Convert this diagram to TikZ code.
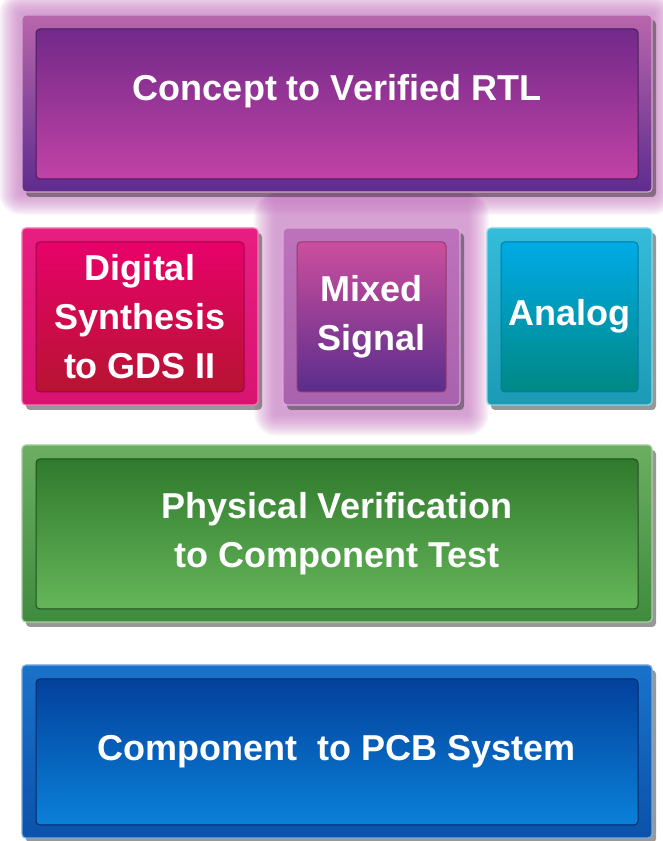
\documentclass[tikz,border=0pt]{standalone}
\usepackage{fontspec}
\setmainfont{Liberation Sans}
\usepackage{tikz}
\usetikzlibrary{calc, shadows, backgrounds}
\definecolor{glowpink}{HTML}{C97DC4}
\definecolor{rtlfrA}{HTML}{B866AB}
\definecolor{rtlfrB}{HTML}{5E2C8E}
\definecolor{rtlpA}{HTML}{6A2787}
\definecolor{rtlpB}{HTML}{C845A8}
\definecolor{digfrA}{HTML}{E81E80}
\definecolor{digfrB}{HTML}{D81470}
\definecolor{digpA}{HTML}{EC0070}
\definecolor{digpB}{HTML}{B3152C}
\definecolor{mixfrA}{HTML}{BE72BC}
\definecolor{mixfrB}{HTML}{A862AE}
\definecolor{mixpA}{HTML}{D6529F}
\definecolor{mixpB}{HTML}{502A8A}
\definecolor{anafrA}{HTML}{34BCDA}
\definecolor{anafrB}{HTML}{1C9AB4}
\definecolor{anapA}{HTML}{00AEEF}
\definecolor{anapB}{HTML}{00857C}
\definecolor{phyfrA}{HTML}{6CAE62}
\definecolor{phyfrB}{HTML}{3F8B3D}
\definecolor{phypA}{HTML}{2A7428}
\definecolor{phypB}{HTML}{6ABB5E}
\definecolor{pcbfrA}{HTML}{1A72CA}
\definecolor{pcbfrB}{HTML}{0B52AA}
\definecolor{pcbpA}{HTML}{023B97}
\definecolor{pcbpB}{HTML}{0B86DD}
\tikzset{
  tile/.style = {rectangle, rounded corners=4pt, text=white, align=center, line width=1.2pt, font=\bfseries\fontsize{36}{49}\selectfont, drop shadow={shadow xshift=4pt, shadow yshift=-5pt, opacity=0.5, fill=black!80}},
  panel/.style n args = {4}{tile, draw=#1!60!white, top color=#1, bottom color=#2,
    path picture={\shadedraw[draw=#3!70!black, line width=1pt, top color=#3, bottom color=#4] ($(path picture bounding box.south west)+(14pt,13pt)$) rectangle ($(path picture bounding box.north east)+(-14pt,-14pt)$);}},
  rtlbox/.style = {panel={rtlfrA}{rtlfrB}{rtlpA}{rtlpB}, minimum width=630pt, minimum height=177pt},
  digbox/.style = {panel={digfrA}{digfrB}{digpA}{digpB}, minimum width=236pt, minimum height=177pt},
  mixbox/.style = {panel={mixfrA}{mixfrB}{mixpA}{mixpB}, minimum width=177pt, minimum height=177pt},
  anabox/.style = {panel={anafrA}{anafrB}{anapA}{anapB}, minimum width=165pt, minimum height=177pt},
  phybox/.style = {panel={phyfrA}{phyfrB}{phypA}{phypB}, minimum width=630pt, minimum height=177pt},
  pcbbox/.style = {panel={pcbfrA}{pcbfrB}{pcbpA}{pcbpB}, minimum width=630pt, minimum height=173pt}
}
\begin{document}
\begin{tikzpicture}[x=1pt, y=1pt]
  \useasboundingbox (0,0) rectangle (663,841);
  \node[rtlbox, text depth=32pt] (rtl) at (337,737.5) {Concept to Verified RTL};
  \node[digbox] (digital) at (140,524.5) {Digital\\Synthesis\\to GDS II};
  \node[mixbox] (mixed) at (371.5,524.5) {Mixed\\Signal};
  \node[anabox] (analog) at (569.5,524.5) {Analog};
  \node[phybox] (physical) at (337,307.5) {Physical Verification\\to Component Test};
  \node[pcbbox] (pcb) at (337,89.5) {Component\ \ to PCB System};
  \begin{scope}[on background layer]
    \fill[white] (0,0) rectangle (663,841);
    \foreach \g in {22,20,...,2} {
      \fill[glowpink, opacity=0.1, rounded corners=\g pt] ($(rtl.south west)+(-\g pt,-\g pt)$) rectangle ($(rtl.north east)+(\g pt,\g pt)$);
      \fill[glowpink, opacity=0.1, rounded corners=\g pt] ($(mixed.south west)+(-6pt-\g pt,-8pt-\g pt)$) rectangle ($(mixed.east |- rtl.south)+(6pt+\g pt,0pt)$);
    }
  \end{scope}
\end{tikzpicture}
\end{document}
